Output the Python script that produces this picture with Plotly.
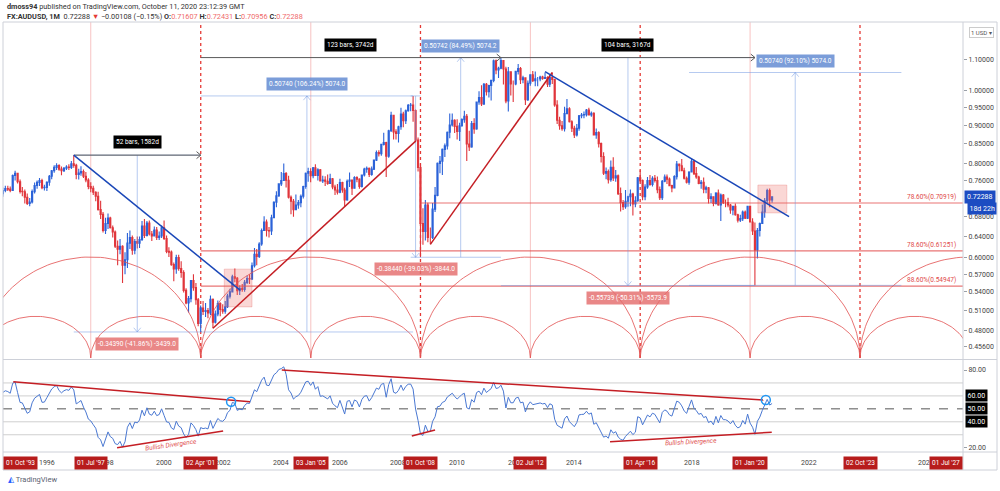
import numpy as np
import pandas as pd
import plotly.graph_objects as go

# ---------------- data (monthly AUDUSD) ----------------
START_MONTH = "1993-01-01"
FIRST_OPEN = 0.6880

CLOSE = [
    0.6830, 0.7085, 0.7080, 0.7170, 0.6870, 0.6740, 0.6740, 0.6750, 0.6475, 0.6540, 0.6620, 0.6790,  # 1993
    0.7055, 0.7150, 0.7020, 0.7165, 0.7310, 0.7300, 0.7370, 0.7415, 0.7400, 0.7370, 0.7715, 0.7770,  # 1994
    0.7570, 0.7350, 0.7340, 0.7220, 0.7080, 0.7115, 0.7345, 0.7485, 0.7555, 0.7600, 0.7435, 0.7440,  # 1995
    0.7560, 0.7700, 0.7830, 0.7910, 0.7955, 0.7870, 0.7830, 0.7890, 0.7920, 0.7910, 0.8000, 0.7960,  # 1996
    0.7740, 0.7775, 0.7810, 0.7700, 0.7610, 0.7460, 0.7420, 0.7330, 0.7240, 0.6950, 0.6850, 0.6520,  # 1997
    0.6660, 0.6770, 0.6575, 0.6490, 0.6210, 0.6155, 0.6210, 0.5860, 0.5960, 0.6270, 0.6380, 0.6135,  # 1998
    0.6300, 0.6270, 0.6340, 0.6610, 0.6420, 0.6670, 0.6450, 0.6410, 0.6530, 0.6380, 0.6410, 0.6575,  # 1999
    0.6360, 0.6115, 0.6100, 0.5870, 0.5795, 0.6000, 0.5800, 0.5730, 0.5425, 0.5220, 0.5290, 0.5590,  # 2000
    0.5470, 0.5270, 0.4900, 0.5140, 0.5085, 0.5100, 0.5060, 0.5280, 0.4920, 0.5045, 0.5210, 0.5115,  # 2001
    0.5090, 0.5160, 0.5330, 0.5400, 0.5655, 0.5630, 0.5420, 0.5460, 0.5440, 0.5560, 0.5625, 0.5620,  # 2002
    0.5850, 0.6060, 0.6020, 0.6255, 0.6520, 0.6690, 0.6520, 0.6510, 0.6780, 0.7110, 0.7250, 0.7520,  # 2003
    0.7600, 0.7760, 0.7605, 0.7220, 0.7130, 0.6950, 0.7050, 0.7100, 0.7240, 0.7460, 0.7770, 0.7810,  # 2004
    0.7710, 0.7900, 0.7720, 0.7850, 0.7590, 0.7610, 0.7580, 0.7530, 0.7640, 0.7450, 0.7380, 0.7330,  # 2005
    0.7550, 0.7380, 0.7160, 0.7580, 0.7610, 0.7420, 0.7670, 0.7630, 0.7460, 0.7730, 0.7870, 0.7890,  # 2006
    0.7740, 0.7870, 0.8090, 0.8280, 0.8250, 0.8490, 0.8540, 0.8190, 0.8850, 0.9280, 0.8820, 0.8780,  # 2007
    0.8960, 0.9320, 0.9130, 0.9410, 0.9570, 0.9580, 0.9420, 0.8600, 0.7910, 0.6660, 0.6500, 0.7050,  # 2008
    0.6380, 0.6380, 0.6960, 0.7260, 0.8010, 0.8060, 0.8360, 0.8450, 0.8810, 0.9010, 0.9140, 0.8970,  # 2009
    0.8830, 0.8990, 0.9160, 0.9250, 0.8500, 0.8420, 0.9050, 0.8900, 0.9670, 0.9800, 0.9610, 1.0210,  # 2010
    0.9980, 1.0170, 1.0330, 1.0970, 1.0670, 1.0720, 1.0980, 1.0700, 0.9700, 1.0610, 1.0220, 1.0220,  # 2011
    1.0620, 1.0710, 1.0350, 1.0410, 0.9740, 1.0240, 1.0510, 1.0320, 1.0380, 1.0380, 1.0440, 1.0390,  # 2012
    1.0420, 1.0210, 1.0420, 1.0360, 0.9580, 0.9140, 0.8990, 0.8910, 0.9330, 0.9470, 0.9100, 0.8920,  # 2013
    0.8740, 0.8920, 0.9270, 0.9290, 0.9300, 0.9430, 0.9290, 0.9340, 0.8740, 0.8800, 0.8510, 0.8180,  # 2014
    0.7770, 0.7810, 0.7620, 0.7910, 0.7660, 0.7710, 0.7300, 0.7100, 0.7010, 0.7130, 0.7230, 0.7290,  # 2015
    0.7070, 0.7140, 0.7660, 0.7600, 0.7230, 0.7450, 0.7600, 0.7510, 0.7650, 0.7600, 0.7390, 0.7210,  # 2016
    0.7580, 0.7680, 0.7630, 0.7480, 0.7430, 0.7690, 0.7990, 0.7950, 0.7830, 0.7650, 0.7560, 0.7800,  # 2017
    0.8060, 0.7760, 0.7680, 0.7530, 0.7560, 0.7400, 0.7430, 0.7190, 0.7230, 0.7080, 0.7310, 0.7050,  # 2018
    0.7270, 0.7100, 0.7100, 0.7050, 0.6940, 0.7020, 0.6840, 0.6730, 0.6760, 0.6900, 0.6770, 0.7020,  # 2019
    0.6690, 0.6510, 0.6140, 0.6520, 0.6660, 0.6900, 0.7140, 0.7370, 0.71607, 0.72288,                # 2020
]
HIGH = [
    0.6950, 0.7120, 0.7190, 0.7230, 0.7200, 0.6920, 0.6850, 0.6880, 0.6810, 0.6600, 0.6700, 0.6820,
    0.7110, 0.7200, 0.7200, 0.7220, 0.7350, 0.7380, 0.7440, 0.7480, 0.7480, 0.7460, 0.7740, 0.7830,
    0.7780, 0.7620, 0.7450, 0.7390, 0.7300, 0.7200, 0.7390, 0.7550, 0.7600, 0.7660, 0.7640, 0.7500,
    0.7580, 0.7730, 0.7850, 0.7960, 0.8010, 0.7990, 0.7930, 0.7920, 0.7960, 0.7990, 0.8070, 0.8214,
    0.8000, 0.7880, 0.7940, 0.7860, 0.7800, 0.7650, 0.7560, 0.7480, 0.7350, 0.7340, 0.7140, 0.6900,
    0.6780, 0.6870, 0.6800, 0.6620, 0.6520, 0.6320, 0.6350, 0.6230, 0.6100, 0.6470, 0.6520, 0.6420,
    0.6350, 0.6400, 0.6400, 0.6710, 0.6750, 0.6710, 0.6720, 0.6510, 0.6600, 0.6590, 0.6500, 0.6620,
    0.6720, 0.6420, 0.6190, 0.6130, 0.5910, 0.6050, 0.6050, 0.5930, 0.5770, 0.5460, 0.5330, 0.5600,
    0.5700, 0.5550, 0.5300, 0.5180, 0.5250, 0.5220, 0.5140, 0.5340, 0.5290, 0.5100, 0.5260, 0.5230,
    0.5200, 0.5250, 0.5370, 0.5450, 0.5690, 0.5800, 0.5650, 0.5510, 0.5530, 0.5600, 0.5680, 0.5700,
    0.5910, 0.6180, 0.6160, 0.6290, 0.6560, 0.6810, 0.6740, 0.6590, 0.6840, 0.7130, 0.7350, 0.7530,
    0.7800, 0.8005, 0.7800, 0.7710, 0.7260, 0.7180, 0.7280, 0.7160, 0.7280, 0.7480, 0.7790, 0.7900,
    0.7890, 0.7920, 0.7990, 0.7890, 0.7870, 0.7710, 0.7700, 0.7740, 0.7760, 0.7660, 0.7500, 0.7520,
    0.7640, 0.7570, 0.7430, 0.7620, 0.7790, 0.7620, 0.7700, 0.7700, 0.7650, 0.7740, 0.7900, 0.7930,
    0.7910, 0.7930, 0.8100, 0.8330, 0.8340, 0.8500, 0.8800, 0.8560, 0.8880, 0.9380, 0.9300, 0.8890,
    0.8990, 0.9500, 0.9380, 0.9450, 0.9610, 0.9640, 0.9849, 0.9450, 0.8670, 0.8000, 0.6980, 0.7160,
    0.7100, 0.6580, 0.7090, 0.7450, 0.8030, 0.8190, 0.8380, 0.8510, 0.8830, 0.9330, 0.9330, 0.9170,
    0.9170, 0.9070, 0.9200, 0.9410, 0.9320, 0.8850, 0.9120, 0.9200, 0.9680, 0.9990, 1.0180, 1.0250,
    1.0250, 1.0190, 1.0350, 1.1010, 1.1010, 1.0770, 1.1079, 1.1000, 1.0770, 1.0760, 1.0620, 1.0330,
    1.0640, 1.0860, 1.0760, 1.0480, 1.0420, 1.0330, 1.0530, 1.0630, 1.0620, 1.0440, 1.0480, 1.0480,
    1.0580, 1.0460, 1.0500, 1.0583, 1.0380, 0.9720, 0.9240, 0.9120, 0.9530, 0.9760, 0.9510, 0.9140,
    0.8990, 0.9040, 0.9290, 0.9350, 0.9390, 0.9460, 0.9500, 0.9390, 0.9370, 0.8910, 0.8840, 0.8540,
    0.8290, 0.7910, 0.7860, 0.8080, 0.8160, 0.7850, 0.7740, 0.7440, 0.7160, 0.7380, 0.7250, 0.7390,
    0.7320, 0.7240, 0.7680, 0.7840, 0.7620, 0.7510, 0.7680, 0.7730, 0.7700, 0.7730, 0.7690, 0.7460,
    0.7610, 0.7740, 0.7740, 0.7670, 0.7500, 0.7720, 0.8070, 0.8000, 0.8120, 0.7900, 0.7690, 0.7820,
    0.8136, 0.8100, 0.7920, 0.7710, 0.7610, 0.7670, 0.7480, 0.7450, 0.7310, 0.7240, 0.7330, 0.7390,
    0.7300, 0.7290, 0.7170, 0.7210, 0.7070, 0.7030, 0.7080, 0.6860, 0.6840, 0.6930, 0.6930, 0.7030,
    0.7030, 0.6770, 0.6680, 0.6570, 0.6680, 0.7060, 0.7200, 0.7410, 0.7414, 0.72431,
]
LOW = [
    0.6760, 0.6790, 0.6990, 0.7000, 0.6820, 0.6650, 0.6610, 0.6640, 0.6430, 0.6420, 0.6500, 0.6580,
    0.6760, 0.7020, 0.6990, 0.6990, 0.7140, 0.7220, 0.7230, 0.7330, 0.7360, 0.7330, 0.7360, 0.7600,
    0.7530, 0.7300, 0.7240, 0.7080, 0.7050, 0.7020, 0.7080, 0.7300, 0.7410, 0.7470, 0.7400, 0.7370,
    0.7360, 0.7480, 0.7630, 0.7780, 0.7850, 0.7830, 0.7720, 0.7800, 0.7850, 0.7850, 0.7870, 0.7900,
    0.7630, 0.7620, 0.7710, 0.7660, 0.7560, 0.7400, 0.7330, 0.7270, 0.7130, 0.6930, 0.6750, 0.6480,
    0.6450, 0.6550, 0.6560, 0.6380, 0.6180, 0.5860, 0.6060, 0.5550, 0.5700, 0.5810, 0.6160, 0.6050,
    0.6060, 0.6170, 0.6180, 0.6310, 0.6370, 0.6400, 0.6420, 0.6310, 0.6400, 0.6330, 0.6330, 0.6370,
    0.6330, 0.6080, 0.6010, 0.5850, 0.5580, 0.5710, 0.5760, 0.5640, 0.5390, 0.5200, 0.5070, 0.5230,
    0.5420, 0.5190, 0.4860, 0.4775, 0.5030, 0.5000, 0.4980, 0.5030, 0.4830, 0.4900, 0.5010, 0.5010,
    0.5050, 0.5050, 0.5140, 0.5290, 0.5390, 0.5560, 0.5350, 0.5350, 0.5400, 0.5400, 0.5530, 0.5530,
    0.5600, 0.5820, 0.5860, 0.5990, 0.6220, 0.6510, 0.6400, 0.6380, 0.6430, 0.6780, 0.7000, 0.7230,
    0.7470, 0.7590, 0.7440, 0.7190, 0.6850, 0.6800, 0.6940, 0.6970, 0.7000, 0.7190, 0.7410, 0.7570,
    0.7560, 0.7650, 0.7710, 0.7600, 0.7580, 0.7540, 0.7470, 0.7500, 0.7530, 0.7400, 0.7270, 0.7280,
    0.7310, 0.7320, 0.7020, 0.7140, 0.7450, 0.7270, 0.7410, 0.7560, 0.7410, 0.7440, 0.7690, 0.7780,
    0.7680, 0.7710, 0.7850, 0.8070, 0.8180, 0.8200, 0.8460, 0.7680, 0.8150, 0.8820, 0.8620, 0.8620,
    0.8540, 0.8880, 0.8950, 0.9040, 0.9380, 0.9400, 0.9100, 0.8580, 0.7810, 0.6005, 0.6240, 0.6320,
    0.6290, 0.6248, 0.6350, 0.6900, 0.7240, 0.7770, 0.7730, 0.8170, 0.8360, 0.8650, 0.8970, 0.8790,
    0.8620, 0.8580, 0.8960, 0.9070, 0.8070, 0.8320, 0.8400, 0.8770, 0.8880, 0.9590, 0.9550, 0.9580,
    0.9860, 0.9800, 0.9710, 1.0270, 1.0530, 1.0410, 1.0690, 1.0200, 0.9630, 0.9390, 0.9860, 0.9670,
    1.0180, 1.0520, 1.0220, 1.0240, 0.9580, 0.9700, 1.0160, 1.0280, 1.0150, 1.0150, 1.0300, 1.0350,
    1.0380, 1.0120, 1.0120, 1.0220, 0.9530, 0.9040, 0.8880, 0.8850, 0.8830, 0.9320, 0.9080, 0.8820,
    0.8660, 0.8700, 0.8850, 0.9200, 0.9200, 0.9250, 0.9280, 0.9240, 0.8730, 0.8640, 0.8410, 0.8030,
    0.7730, 0.7630, 0.7530, 0.7570, 0.7590, 0.7570, 0.7270, 0.6910, 0.6940, 0.6970, 0.7010, 0.7020,
    0.6827, 0.7000, 0.7120, 0.7560, 0.7150, 0.7150, 0.7410, 0.7480, 0.7460, 0.7550, 0.7310, 0.7160,
    0.7160, 0.7560, 0.7520, 0.7470, 0.7330, 0.7420, 0.7620, 0.7810, 0.7820, 0.7620, 0.7530, 0.7500,
    0.7790, 0.7730, 0.7640, 0.7510, 0.7410, 0.7310, 0.7310, 0.7080, 0.7090, 0.7020, 0.7060, 0.7030,
    0.6710, 0.7070, 0.7000, 0.7000, 0.6860, 0.6830, 0.6820, 0.6680, 0.6690, 0.6710, 0.6750, 0.6750,
    0.6680, 0.6430, 0.5506, 0.5980, 0.6400, 0.6650, 0.6780, 0.7080, 0.7000, 0.70956,
]

PRICE_TICKS = [1.10, 1.00, 0.95, 0.90, 0.85, 0.80, 0.76, 0.68, 0.64, 0.60, 0.57, 0.54, 0.51, 0.48, 0.456]
YEAR_TICKS = [1996, 1998, 2000, 2002, 2004, 2006, 2008, 2010, 2012, 2014, 2018, 2022, 2026]
CYCLE_DATES = ["1993-10-01", "1997-07-01", "2001-04-02", "2005-01-03", "2008-10-01",
               "2012-07-02", "2016-04-01", "2020-01-01", "2023-10-02", "2027-07-01", "2031-04-01"]
CYCLE_LABELS = ["01 Oct '93", "01 Jul '97", "02 Apr '01", "03 Jan '05", "01 Oct '08",
                "02 Jul '12", "01 Apr '16", "01 Jan '20", "02 Oct '23", "01 Jul '27"]
SMALL_ARC_TOP = 0.501
BIG_ARC_TOP = 0.601

FIB_LEVELS = [0.70919, 0.61251, 0.54947]
FIB_TEXT = ["78.60%(0.70919)", "78.60%(0.61251)", "88.60%(0.54947)"]
FIB_START = ["2008-10-01", "2001-04-02", "2001-04-02"]

TREND_START = ["1996-12-01", "2001-09-01", "2009-02-01", "2013-01-01"]
TREND_START_P = [0.8214, 0.4830, 0.6248, 1.0610]
TREND_END = ["2002-08-05", "2008-08-05", "2013-04-01", "2021-05-01"]
TREND_END_P = [0.5430, 0.8580, 1.0583, 0.6800]
TREND_COLOR = ["blue", "red", "red", "blue"]

TR_START = ["1996-12-01", "2001-04-02", "2011-07-01"]
TR_END = ["2001-04-02", "2011-07-01", "2020-03-02"]
TR_PRICE = [0.8214, 1.1079, 1.1079]
TR_TEXT = ["52 bars, 1582d", "123 bars, 3742d", "104 bars, 3167d"]

PR_START = ["1996-12-01", "2001-04-02", "2008-06-01", "2008-10-01", "2011-07-01", "2017-12-01"]
PR_END = ["2001-04-02", "2008-07-01", "2008-10-01", "2011-07-01", "2020-03-02", "2025-03-01"]
PR_FROM = [0.8214, 0.4775, 0.9849, 0.6005, 1.1079, 0.5509]
PR_TO = [0.4775, 0.9849, 0.6005, 1.1079, 0.5505, 1.0583]
PR_TEXT = ["-0.34390 (-41.86%) -3439.0", "0.50740 (106.24%) 5074.0", "-0.38440 (-39.03%) -3844.0",
           "0.50742 (84.49%) 5074.2", "-0.55739 (-50.31%) -5573.9", "0.50740 (92.10%) 5074.0"]

BOX_X0 = ["2002-01-20", "2020-04-07"]
BOX_X1 = ["2003-01-01", "2021-04-03"]
BOX_P0 = [0.5157, 0.6880]
BOX_P1 = [0.5790, 0.7494]

RSI_TL_X0 = ["1994-11-08", "2004-01-07", "1998-05-25", "2008-06-15", "2015-03-22"]
RSI_TL_Y0 = [71.0, 80.0, 20.0, 29.0, 24.6]
RSI_TL_X1 = ["2002-12-07", "2020-06-15", "2002-01-06", "2009-04-01", "2020-09-27"]
RSI_TL_Y1 = [55.5, 56.8, 32.9, 33.7, 31.9]
RSI_MARK_X = ["2002-04-15", "2020-07-15"]
RSI_MARK_Y = [55.5, 56.8]
DIV_X = ["2000-03-27", "2017-12-28"]
DIV_Y = [22.2, 24.4]
DIV_ANGLE = [-8, -3]
RSI_LEVELS = [70, 60, 40, 30]

LAST_PRICE = 0.72288

# ---------------- geometry ----------------
W, H = 1000, 491
ML, MR, MT, MB = 3, 37, 22, 39
PW, PH = W - ML - MR, H - MT - MB


def px(x):
    return (x - ML) / PW


def py(y):
    return (H - MB - y) / PH


MAIN_DOM = [py(358), 1.0]
RSI_DOM = [0.0, py(361)]
X_RANGE = ["1994-07-03", "2027-04-08"]
Y_RANGE = [-0.3557, 0.0919]
RSI_RANGE = [16.68, 86.95]

DAYS_PER_PX = (pd.Timestamp(X_RANGE[1]) - pd.Timestamp(X_RANGE[0])).days / PW
DEC_PER_PX = (Y_RANGE[1] - Y_RANGE[0]) / ((MAIN_DOM[1] - MAIN_DOM[0]) * PH)

UP = "#2B62D8"
DOWN = "#E0353B"
TBLUE = "#1A47B8"
TRED = "#C41E24"
CYC_RED = "#E53935"
MEAS = "rgba(110,150,225,0.5)"
FONT = "Roboto, Arial, sans-serif"

# ---------------- series ----------------
dates = pd.date_range(START_MONTH, periods=len(CLOSE), freq="MS")
OPEN = [FIRST_OPEN] + CLOSE[:-1]


def wilder_rsi(values, n=14):
    c = np.asarray(values, dtype=float)
    d = np.diff(c)
    g = np.where(d > 0, d, 0.0)
    l = np.where(d < 0, -d, 0.0)
    out = np.full(len(c), np.nan)
    ag, al = g[:n].mean(), l[:n].mean()
    out[n] = 100 - 100 / (1 + ag / al)
    for i in range(n, len(d)):
        ag = (ag * (n - 1) + g[i]) / n
        al = (al * (n - 1) + l[i]) / n
        out[i + 1] = 100 - 100 / (1 + ag / al) if al > 0 else 100
    return out


rsi = wilder_rsi(CLOSE)

fig = go.Figure()


def add_line(xs, ys, color, width=1.0, dash=None, axes=("x", "y"), fill=None, fillcolor=None):
    fig.add_trace(go.Scatter(x=xs, y=ys, mode="lines", xaxis=axes[0], yaxis=axes[1],
                             line=dict(color=color, width=width, dash=dash),
                             fill=fill, fillcolor=fillcolor, hoverinfo="skip", showlegend=False))


def chevron(d, p, direction, size=3.5):
    d = pd.Timestamp(d)
    dx = pd.Timedelta(days=size * DAYS_PER_PX)
    f = 10 ** (size * 1.2 * DEC_PER_PX)
    if direction == "up":
        return [d - dx, d, d + dx], [p / f, p, p / f]
    if direction == "down":
        return [d - dx, d, d + dx], [p * f, p, p * f]
    f2 = 10 ** (size * DEC_PER_PX)
    return [d - dx * 1.2, d, d - dx * 1.2], [p * f2, p, p / f2]


# cycle arcs
cyc = [pd.Timestamp(c) for c in CYCLE_DATES]
t = np.linspace(0, np.pi, 90)
base = Y_RANGE[0]


def arc(d0, d1, top):
    c = d0 + (d1 - d0) / 2
    half = (d1 - d0) / 2
    xs = [c + half * np.cos(a) for a in t]
    ys = 10 ** (base + (np.log10(top) - base) * np.sin(t))
    add_line(xs, ys, "rgba(226,80,80,0.8)", 1.0)


for i in range(len(cyc) - 1):
    arc(cyc[i], cyc[i + 1], SMALL_ARC_TOP)
for i in range(0, len(cyc) - 2, 2):
    arc(cyc[i], cyc[i + 2], BIG_ARC_TOP)

# fib horizontal levels
for lvl, st in zip(FIB_LEVELS, FIB_START):
    add_line([st, X_RANGE[1]], [lvl, lvl], "rgba(226,70,70,0.75)", 1.2)

# price range measurements (lines)
for x0, x1, p0, p1 in zip(PR_START, PR_END, PR_FROM, PR_TO):
    a, b = pd.Timestamp(x0), pd.Timestamp(x1)
    mid = a + (b - a) / 2
    add_line([a, b], [p0, p0], MEAS, 1)
    add_line([a, b], [p1, p1], MEAS, 1)
    add_line([mid, mid], [p0, p1], MEAS, 1)
    cx, cy = chevron(mid, p1, "up" if p1 > p0 else "down")
    add_line(cx, cy, MEAS, 1)

# candles
fig.add_trace(go.Candlestick(
    x=dates, open=OPEN, high=HIGH, low=LOW, close=CLOSE, xaxis="x", yaxis="y",
    increasing=dict(line=dict(color=UP, width=1.1), fillcolor=UP),
    decreasing=dict(line=dict(color=DOWN, width=1.1), fillcolor=DOWN),
    whiskerwidth=0, hoverinfo="skip", showlegend=False))

# highlight boxes
for x0, x1, p0, p1 in zip(BOX_X0, BOX_X1, BOX_P0, BOX_P1):
    add_line([x0, x1, x1, x0, x0], [p0, p0, p1, p1, p0], "rgba(229,83,80,0.25)", 1,
             fill="toself", fillcolor="rgba(236,110,105,0.28)")

# time range arrows
for x0, x1, p in zip(TR_START, TR_END, TR_PRICE):
    add_line([x0, x1], [p, p], "#5a5a5a", 1)
    cx, cy = chevron(x1, p, "right")
    add_line(cx, cy, "#5a5a5a", 1)

# trend lines
for x0, p0, x1, p1, c in zip(TREND_START, TREND_START_P, TREND_END, TREND_END_P, TREND_COLOR):
    add_line([x0, x1], [p0, p1], TBLUE if c == "blue" else TRED, 1.5)

# RSI
fig.add_trace(go.Scatter(x=dates, y=rsi, mode="lines", xaxis="x2", yaxis="y2",
                         line=dict(color="#4A78D2", width=1), hoverinfo="skip", showlegend=False))
for x0, y0, x1, y1 in zip(RSI_TL_X0, RSI_TL_Y0, RSI_TL_X1, RSI_TL_Y1):
    add_line([x0, x1], [y0, y1], TRED, 1.5, axes=("x2", "y2"))
fig.add_trace(go.Scatter(x=RSI_MARK_X, y=RSI_MARK_Y, mode="markers", xaxis="x2", yaxis="y2",
                         marker=dict(symbol="circle-open", size=9, color="#2196F3", line=dict(width=1.5)),
                         hoverinfo="skip", showlegend=False))

# ---------------- shapes ----------------
shapes = []
for i, d in enumerate(CYCLE_DATES[:-1]):
    ts = pd.Timestamp(d)
    if ts < pd.Timestamp(X_RANGE[0]) or ts > pd.Timestamp(X_RANGE[1]):
        continue
    dotted = (i % 2 == 0)
    shapes.append(dict(type="line", xref="x", yref="y domain", x0=d, x1=d, y0=0, y1=1, layer="below",
                       line=dict(color=CYC_RED if dotted else "rgba(229,57,53,0.3)",
                                 width=1.3 if dotted else 1, dash="dot" if dotted else "solid")))
for lv in RSI_LEVELS:
    shapes.append(dict(type="line", xref="paper", yref="y2", x0=0, x1=1, y0=lv, y1=lv, layer="below",
                       line=dict(color="#CFCFCF", width=1)))
shapes.append(dict(type="line", xref="paper", yref="y2", x0=0, x1=1, y0=50, y1=50, layer="below",
                   line=dict(color="#555555", width=1, dash="dash")))
border = "#CDD0D8"
shapes += [
    dict(type="rect", xref="paper", yref="paper", x0=0, x1=px(997), y0=py(470), y1=1,
         line=dict(color=border, width=1)),
    dict(type="line", xref="paper", yref="paper", x0=1, x1=1, y0=py(470), y1=1, line=dict(color=border, width=1)),
    dict(type="line", xref="paper", yref="paper", x0=0, x1=px(997), y0=py(359.5), y1=py(359.5),
         line=dict(color=border, width=1)),
    dict(type="line", xref="paper", yref="paper", x0=0, x1=px(997), y0=0, y1=0, line=dict(color=border, width=1)),
]

# ---------------- annotations ----------------
ann = []


def txt(x, y, text, size=7, color="#333333", xref="paper", yref="paper", xanchor="center",
        yanchor="middle", bg=None, yshift=0, angle=0, pad=1):
    d = dict(x=x, y=y, text=text, xref=xref, yref=yref, xanchor=xanchor, yanchor=yanchor,
             showarrow=False, font=dict(family=FONT, size=size, color=color), yshift=yshift,
             textangle=angle, borderpad=pad)
    if bg:
        d["bgcolor"] = bg
    ann.append(d)


# header
txt(px(5), py(6.5), "<b>dmoss94</b> published on TradingView.com, October 11, 2020 23:12:39 GMT",
    size=7.3, xanchor="left")
sal = "#EF6B6B"
txt(px(5), py(16.5),
    "<b>FX:AUDUSD, 1M</b>  0.72288 <span style='color:#E53935'>▼</span> −0.00108 (−0.15%) "
    f"<b>O:</b><span style='color:{sal}'>0.71607</span> <b>H:</b><span style='color:{sal}'>0.72431</span> "
    f"<b>L:</b><span style='color:{sal}'>0.70956</span> <b>C:</b><span style='color:{sal}'>0.72288</span>",
    size=7.3, xanchor="left")

# year labels, then cycle labels on top
for yr in YEAR_TICKS:
    txt(f"{yr}-01-01", py(463), str(yr), size=7, color="#444444", xref="x")
for i, (d, lab) in enumerate(zip(CYCLE_DATES, CYCLE_LABELS)):
    ts = pd.Timestamp(d)
    if ts < pd.Timestamp(X_RANGE[0]):
        txt(0, py(463), lab, size=6.5, color="white", xanchor="left", bg="#B71C1C", pad=2)
    elif ts > pd.Timestamp(X_RANGE[1]):
        txt(1, py(463), lab, size=6.5, color="white", xanchor="right", bg="#B71C1C", pad=2)
    else:
        txt(d, py(463), lab, size=6.5, color="white", xref="x", bg="#B71C1C", pad=2)

# fib labels
for lvl, lab in zip(FIB_LEVELS, FIB_TEXT):
    txt(px(958), np.log10(lvl), lab, size=6.5, color="#E04848", yref="y", xanchor="right",
        yanchor="bottom", yshift=0)

# time range labels
for x0, x1, p, lab in zip(TR_START, TR_END, TR_PRICE, TR_TEXT):
    a, b = pd.Timestamp(x0), pd.Timestamp(x1)
    txt(a + (b - a) / 2, np.log10(p), lab, size=6.5, color="white", xref="x", yref="y",
        bg="#000000", yshift=13, pad=2)

# price range labels
for x0, x1, p0, p1, lab in zip(PR_START, PR_END, PR_FROM, PR_TO, PR_TEXT):
    a, b = pd.Timestamp(x0), pd.Timestamp(x1)
    upw = p1 > p0
    txt(a + (b - a) / 2, np.log10(p1), lab, size=6.5, color="white", xref="x", yref="y",
        bg="rgba(100,140,210,0.85)" if upw else "rgba(228,108,108,0.82)",
        yshift=12 if upw else -12, pad=2)

# divergence texts
for x, y, ang in zip(DIV_X, DIV_Y, DIV_ANGLE):
    txt(x, y, "<i>Bullish Divergence</i>", size=6.5, color="#E05050", xref="x2", yref="y2", angle=ang)

# price axis extras
txt(px(981), py(32.5), "1 USD ▾", size=6, color="#555555", bg="white")
ann[-1]["bordercolor"] = "#CCCCCC"
txt(px(964), np.log10(LAST_PRICE), "0.72288", size=7, color="white", xanchor="left", yref="y",
    bg="#1C4CC2", pad=2)
txt(px(967), np.log10(LAST_PRICE), "18d 22h", size=7, color="white", xanchor="left", yref="y",
    bg="#1C4CC2", yshift=-11.5, pad=1.5)
for lv in [60, 50, 40]:
    txt(px(965), lv, f"{lv:.2f}", size=7, color="white", xanchor="left", yref="y2", bg="#000000", pad=1.5)

# footer logo
txt(px(6), py(479), "<span style='color:#2962FF'>◭</span> <span style='color:#5b6270'>TradingView</span>",
    size=7.5, xanchor="left")

fig.update_layout(
    width=W, height=H, margin=dict(l=ML, r=MR, t=MT, b=MB),
    paper_bgcolor="white", plot_bgcolor="white", showlegend=False,
    font=dict(family=FONT, size=7, color="#333333"),
    xaxis=dict(type="date", range=X_RANGE, domain=[0, 1], anchor="y", showgrid=False, zeroline=False,
               showticklabels=False, ticks="", showline=False, rangeslider=dict(visible=False)),
    yaxis=dict(type="log", range=Y_RANGE, domain=MAIN_DOM, side="right", anchor="x",
               tickvals=PRICE_TICKS, ticktext=[f"{v:.5f}" for v in PRICE_TICKS],
               showgrid=False, zeroline=False, ticks="outside", ticklen=3, tickcolor="#9AA0A8",
               tickfont=dict(family=FONT, size=7, color="#444444"), showline=False),
    xaxis2=dict(type="date", matches="x", domain=[0, 1], anchor="y2", showgrid=False, zeroline=False,
                showticklabels=False, ticks="", showline=False),
    yaxis2=dict(range=RSI_RANGE, domain=RSI_DOM, side="right", anchor="x2",
                tickvals=[80, 20], ticktext=["80.00", "20.00"], showgrid=False, zeroline=False,
                ticks="outside", ticklen=3, tickcolor="#9AA0A8",
                tickfont=dict(family=FONT, size=7, color="#444444")),
    shapes=shapes, annotations=ann,
)

fig.write_html("out.html", config={"displayModeBar": False},
               post_script="document.body.style.margin='0px';")
